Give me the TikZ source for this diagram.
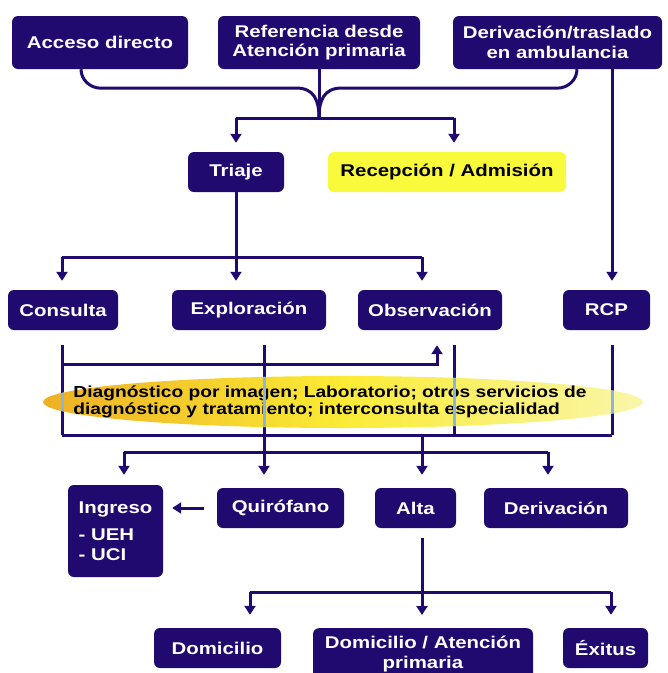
\documentclass[tikz,border=0pt]{standalone}
\usepackage{fontspec}
\newfontfamily\boxfont{Liberation Sans}[FakeStretch=1.2]
\usetikzlibrary{arrows.meta,shapes.geometric,calc}
\definecolor{navy}{RGB}{32,10,112}
\definecolor{yel}{RGB}{250,250,60}
\definecolor{lightline}{RGB}{140,180,225}
\definecolor{ellL}{RGB}{238,176,36}
\definecolor{ellR}{RGB}{250,246,170}
\begin{document}
\begin{tikzpicture}[x=1pt,y=-1pt,
  boxn/.style={rectangle, rounded corners=6pt, fill=navy, text=white, inner sep=0pt,
     font=\boxfont\bfseries\fontsize{17}{19.5}\selectfont, align=center},
  ybox/.style={boxn, fill=yel, text=black},
  wire/.style={draw=navy, line width=3pt},
  arr/.style={wire, -{Triangle[width=11pt,length=9pt]}},
]
\useasboundingbox[fill=white] (0,0) rectangle (668,673);

% top row
\node[boxn, minimum width=176pt, minimum height=53pt] (acceso) at (100,42.5) {Acceso directo};
\node[boxn, minimum width=202pt, minimum height=53pt] (refer) at (319,42.5) {Referencia desde\\Atención primaria};
\node[boxn, minimum width=209pt, minimum height=53pt] (deriv1) at (557.5,42.5) {Derivación/traslado\\en ambulancia};

% second row
\node[boxn, minimum width=96pt, minimum height=40pt] (triaje) at (236,172) {Triaje};
\node[ybox, minimum width=238pt, minimum height=40pt] (recep) at (447,172) {Recepción / Admisión};

% third row
\node[boxn, minimum width=110pt, minimum height=40pt] (consulta) at (63,310) {Consulta};
\node[boxn, minimum width=154pt, minimum height=40pt] (explor) at (249,310) {Exploración};
\node[boxn, minimum width=144pt, minimum height=40pt] (observ) at (430,310) {Observación};
\node[boxn, minimum width=87pt, minimum height=40pt] (rcp) at (606.5,310) {RCP};

% fourth row
\node[boxn, minimum width=95pt, minimum height=92pt, align=left] (ingreso) at (115.5,531) {Ingreso\\[8pt]- UEH\\- UCI};
\node[boxn, minimum width=127pt, minimum height=40pt] (quiro) at (280.5,508) {Quirófano};
\node[boxn, minimum width=81pt, minimum height=40pt] (alta) at (415.5,508) {Alta};
\node[boxn, minimum width=144pt, minimum height=40pt] (deriv2) at (556,508) {Derivación};

% bottom row
\node[boxn, minimum width=127pt, minimum height=40pt] (domi) at (217.5,648) {Domicilio};
\node[boxn, minimum width=220pt, minimum height=52pt, anchor=north] (domiap) at (423,628) {Domicilio / Atención\\primaria};
\node[boxn, minimum width=85pt, minimum height=40pt] (exitus) at (605.5,648) {Éxitus};

% helper coordinates
\coordinate (merge) at (319,118);
\coordinate (h2) at (0,257);
\coordinate (h3) at (0,364);
\coordinate (h4) at (0,435);
\coordinate (h5) at (0,452);
\coordinate (h6) at (0,592);
\coordinate (c1) at (62,0);
\coordinate (c2) at (264,0);
\coordinate (c3) at (437,0);
\coordinate (c4) at (454,0);
\coordinate (c5) at (612,0);
\coordinate (c6) at (422,0);
\coordinate (c7) at (124,0);
\coordinate (c8) at (548,0);
\coordinate (c9) at (250,0);
\coordinate (c10) at (611,0);

% top connectors
\draw[wire] ([xshift=-19pt]acceso.south) to[out=-90,in=180] ++(20,19) -- (296,88)
   .. controls (314,88) and (319,100) .. (merge);
\draw[wire] ([xshift=19.5pt]deriv1.south) to[out=-90,in=0] ++(-20,19) -- (342,88)
   .. controls (324,88) and (319,100) .. (merge);
\draw[wire] (refer.south) -- (merge);
\draw[wire] (triaje.north |- merge) -- (c4 |- merge);
\draw[arr, shorten >=9pt] (triaje.north |- merge) -- (triaje.north);
\draw[arr, shorten >=9pt] (c4 |- merge) -- (c4 |- recep.north);

% triaje branch
\draw[wire] (triaje.south) -- (triaje.south |- h2);
\draw[wire] (c1 |- h2) -- (c6 |- h2);
\draw[arr, shorten >=9pt] (c1 |- h2) -- (c1 |- consulta.north);
\draw[arr, shorten >=9pt] (triaje.south |- h2) -- (triaje.south |- explor.north);
\draw[arr, shorten >=9pt] (c6 |- h2) -- (c6 |- observ.north);

% RCP
\draw[arr, shorten >=9pt] (c5 |- deriv1.south) -- (c5 |- rcp.north);

% third row connectors
\draw[wire, shorten <=15pt] (c1 |- consulta.south) -- (c1 |- h4);
\draw[arr, shorten >=15pt] (c1 |- h3) -- (c3 |- h3) -- (c3 |- observ.south);
\draw[arr, shorten <=15pt, shorten >=13pt] (c2 |- explor.south) -- (c2 |- quiro.north);
\draw[wire, shorten <=15pt] (c4 |- observ.south) -- (c4 |- h4);
\draw[wire, shorten <=15pt] (c5 |- rcp.south) -- (c5 |- h4);
\draw[wire] (c1 |- h4) -- (c5 |- h4);
\draw[arr, shorten >=13pt] (c6 |- h4) -- (c6 |- alta.north);
\draw[wire] (c7 |- h5) -- (c8 |- h5);
\draw[arr, shorten >=10pt] (c7 |- h5) -- (c7 |- ingreso.north);
\draw[arr, shorten >=13pt] (c8 |- h5) -- (c8 |- deriv2.north);

% ellipse
\node[ellipse, minimum width=600pt, minimum height=52pt, inner sep=0pt,
      left color=ellL, right color=ellR, middle color=yel!88!orange] (diag) at (343,402) {};
\node[font=\boxfont\bfseries\fontsize{16}{17.5}\selectfont, align=left, text=black, inner sep=0pt] (diagtxt) at (330,402)
  {Diagnóstico por imagen; Laboratorio; otros servicios de\\diagnóstico y tratamiento; interconsulta especialidad};
\begin{scope}
  \clip (diag.center) ellipse (300 and 26);
  \draw[lightline, line width=3pt] (c1 |- diag.north) -- (c1 |- diag.south);
  \draw[lightline, line width=3pt] (c2 |- diag.north) -- (c2 |- diag.south);
  \draw[lightline, line width=3pt] (c4 |- diag.north) -- (c4 |- diag.south);
  \draw[lightline, line width=3pt] (c5 |- diag.north) -- (c5 |- diag.south);
\end{scope}

% quirofano -> ingreso
\draw[arr, shorten <=13pt, shorten >=9pt] (quiro.west) -- (ingreso.east |- quiro.west);

% alta branch
\draw[arr, shorten <=10pt, shorten >=13pt] (c6 |- alta.south) -- (c6 |- domiap.north);
\draw[wire] (c9 |- h6) -- (c10 |- h6);
\draw[arr, shorten >=13pt] (c9 |- h6) -- (c9 |- domi.north);
\draw[arr, shorten >=13pt] (c10 |- h6) -- (c10 |- exitus.north);
\end{tikzpicture}
\end{document}
